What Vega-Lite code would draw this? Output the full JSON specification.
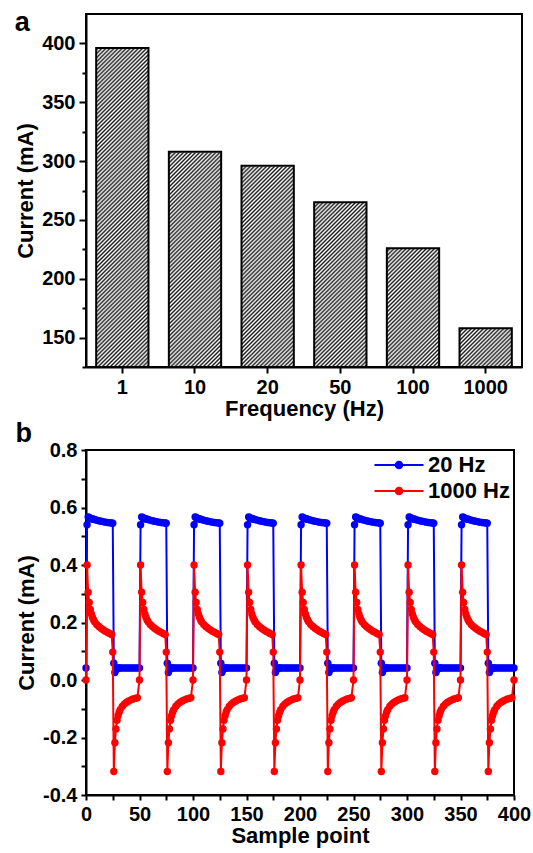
{
  "$schema": "https://vega.github.io/schema/vega-lite/v6.json",
  "padding": {"left": 13, "top": 8, "right": 5, "bottom": 3},
  "bounds": "flush",
  "spacing": 83,
  "resolve": {"scale": {"color": "independent"}, "legend": {"color": "independent"}},
  "config": {
    "view": {"stroke": "#000", "strokeWidth": 2},
    "axis": {"domainColor": "#000", "domainWidth": 2, "tickColor": "#000", "tickWidth": 2, "labelFont": "Liberation Sans", "labelFontSize": 20, "labelFontWeight": "bold", "labelColor": "#000", "titleFont": "Liberation Sans", "titleFontSize": 22, "titleFontWeight": "bold", "titleColor": "#000", "grid": false, "zindex": 1, "labelOverlap": false, "labelFlush": false},
    "axisX": {"labelAngle": 0, "labelPadding": 4, "titlePadding": 1},
    "axisY": {"labelPadding": 4, "titlePadding": 4},
    "legend": {"orient": "top-right", "offset": 4, "padding": 0, "title": null, "labelFont": "Liberation Sans", "labelFontSize": 22, "labelFontWeight": "bold", "labelColor": "#000", "symbolType": "M-4.9,0H4.9M0.65,0A0.65,0.65 0 1 1 -0.65,0A0.65,0.65 0 1 1 0.65,0Z", "symbolSize": 100, "symbolStrokeWidth": 2, "labelOffset": 18, "rowPadding": 4, "symbolOpacity": 1}
  },
  "vconcat": [
    {
      "width": 436,
      "height": 353,
      "title": {"text": "a", "anchor": "start", "frame": "bounds", "orient": "top", "offset": -44, "baseline": "alphabetic", "fontSize": 27, "font": "Liberation Sans", "fontWeight": "bold", "color": "#000"},
      "data": {"values": [
        {"f": "1", "c": 396},
        {"f": "10", "c": 308},
        {"f": "20", "c": 296},
        {"f": "50", "c": 265},
        {"f": "100", "c": 226},
        {"f": "1000", "c": 158}
      ]},
      "encoding": {
        "x": {"field": "f", "type": "nominal", "sort": null, "scale": {"paddingInner": 0.28, "paddingOuter": 0.14}, "title": "Frequency (Hz)", "axis": {"tickSize": 6}}
      },
      "layer": [
        {
          "mark": {"type": "bar", "fill": {"gradient": "linear", "x1": 0, "y1": 0, "x2": 0.1665, "y2": 1.1235, "stops": [
            {"offset":0,"color":"#fff"},{"offset":0.005,"color":"#1a1a1a"},{"offset":0.01,"color":"#fff"},{"offset":0.015,"color":"#1a1a1a"},{"offset":0.02,"color":"#fff"},{"offset":0.025,"color":"#1a1a1a"},{"offset":0.03,"color":"#fff"},{"offset":0.035,"color":"#1a1a1a"},{"offset":0.04,"color":"#fff"},{"offset":0.045,"color":"#1a1a1a"},
            {"offset":0.05,"color":"#fff"},{"offset":0.055,"color":"#1a1a1a"},{"offset":0.06,"color":"#fff"},{"offset":0.065,"color":"#1a1a1a"},{"offset":0.07,"color":"#fff"},{"offset":0.075,"color":"#1a1a1a"},{"offset":0.08,"color":"#fff"},{"offset":0.085,"color":"#1a1a1a"},{"offset":0.09,"color":"#fff"},{"offset":0.095,"color":"#1a1a1a"},
            {"offset":0.1,"color":"#fff"},{"offset":0.105,"color":"#1a1a1a"},{"offset":0.11,"color":"#fff"},{"offset":0.115,"color":"#1a1a1a"},{"offset":0.12,"color":"#fff"},{"offset":0.125,"color":"#1a1a1a"},{"offset":0.13,"color":"#fff"},{"offset":0.135,"color":"#1a1a1a"},{"offset":0.14,"color":"#fff"},{"offset":0.145,"color":"#1a1a1a"},
            {"offset":0.15,"color":"#fff"},{"offset":0.155,"color":"#1a1a1a"},{"offset":0.16,"color":"#fff"},{"offset":0.165,"color":"#1a1a1a"},{"offset":0.17,"color":"#fff"},{"offset":0.175,"color":"#1a1a1a"},{"offset":0.18,"color":"#fff"},{"offset":0.185,"color":"#1a1a1a"},{"offset":0.19,"color":"#fff"},{"offset":0.195,"color":"#1a1a1a"},
            {"offset":0.2,"color":"#fff"},{"offset":0.205,"color":"#1a1a1a"},{"offset":0.21,"color":"#fff"},{"offset":0.215,"color":"#1a1a1a"},{"offset":0.22,"color":"#fff"},{"offset":0.225,"color":"#1a1a1a"},{"offset":0.23,"color":"#fff"},{"offset":0.235,"color":"#1a1a1a"},{"offset":0.24,"color":"#fff"},{"offset":0.245,"color":"#1a1a1a"},
            {"offset":0.25,"color":"#fff"},{"offset":0.255,"color":"#1a1a1a"},{"offset":0.26,"color":"#fff"},{"offset":0.265,"color":"#1a1a1a"},{"offset":0.27,"color":"#fff"},{"offset":0.275,"color":"#1a1a1a"},{"offset":0.28,"color":"#fff"},{"offset":0.285,"color":"#1a1a1a"},{"offset":0.29,"color":"#fff"},{"offset":0.295,"color":"#1a1a1a"},
            {"offset":0.3,"color":"#fff"},{"offset":0.305,"color":"#1a1a1a"},{"offset":0.31,"color":"#fff"},{"offset":0.315,"color":"#1a1a1a"},{"offset":0.32,"color":"#fff"},{"offset":0.325,"color":"#1a1a1a"},{"offset":0.33,"color":"#fff"},{"offset":0.335,"color":"#1a1a1a"},{"offset":0.34,"color":"#fff"},{"offset":0.345,"color":"#1a1a1a"},
            {"offset":0.35,"color":"#fff"},{"offset":0.355,"color":"#1a1a1a"},{"offset":0.36,"color":"#fff"},{"offset":0.365,"color":"#1a1a1a"},{"offset":0.37,"color":"#fff"},{"offset":0.375,"color":"#1a1a1a"},{"offset":0.38,"color":"#fff"},{"offset":0.385,"color":"#1a1a1a"},{"offset":0.39,"color":"#fff"},{"offset":0.395,"color":"#1a1a1a"},
            {"offset":0.4,"color":"#fff"},{"offset":0.405,"color":"#1a1a1a"},{"offset":0.41,"color":"#fff"},{"offset":0.415,"color":"#1a1a1a"},{"offset":0.42,"color":"#fff"},{"offset":0.425,"color":"#1a1a1a"},{"offset":0.43,"color":"#fff"},{"offset":0.435,"color":"#1a1a1a"},{"offset":0.44,"color":"#fff"},{"offset":0.445,"color":"#1a1a1a"},
            {"offset":0.45,"color":"#fff"},{"offset":0.455,"color":"#1a1a1a"},{"offset":0.46,"color":"#fff"},{"offset":0.465,"color":"#1a1a1a"},{"offset":0.47,"color":"#fff"},{"offset":0.475,"color":"#1a1a1a"},{"offset":0.48,"color":"#fff"},{"offset":0.485,"color":"#1a1a1a"},{"offset":0.49,"color":"#fff"},{"offset":0.495,"color":"#1a1a1a"},
            {"offset":0.5,"color":"#fff"},{"offset":0.505,"color":"#1a1a1a"},{"offset":0.51,"color":"#fff"},{"offset":0.515,"color":"#1a1a1a"},{"offset":0.52,"color":"#fff"},{"offset":0.525,"color":"#1a1a1a"},{"offset":0.53,"color":"#fff"},{"offset":0.535,"color":"#1a1a1a"},{"offset":0.54,"color":"#fff"},{"offset":0.545,"color":"#1a1a1a"},
            {"offset":0.55,"color":"#fff"},{"offset":0.555,"color":"#1a1a1a"},{"offset":0.56,"color":"#fff"},{"offset":0.565,"color":"#1a1a1a"},{"offset":0.57,"color":"#fff"},{"offset":0.575,"color":"#1a1a1a"},{"offset":0.58,"color":"#fff"},{"offset":0.585,"color":"#1a1a1a"},{"offset":0.59,"color":"#fff"},{"offset":0.595,"color":"#1a1a1a"},
            {"offset":0.6,"color":"#fff"},{"offset":0.605,"color":"#1a1a1a"},{"offset":0.61,"color":"#fff"},{"offset":0.615,"color":"#1a1a1a"},{"offset":0.62,"color":"#fff"},{"offset":0.625,"color":"#1a1a1a"},{"offset":0.63,"color":"#fff"},{"offset":0.635,"color":"#1a1a1a"},{"offset":0.64,"color":"#fff"},{"offset":0.645,"color":"#1a1a1a"},
            {"offset":0.65,"color":"#fff"},{"offset":0.655,"color":"#1a1a1a"},{"offset":0.66,"color":"#fff"},{"offset":0.665,"color":"#1a1a1a"},{"offset":0.67,"color":"#fff"},{"offset":0.675,"color":"#1a1a1a"},{"offset":0.68,"color":"#fff"},{"offset":0.685,"color":"#1a1a1a"},{"offset":0.69,"color":"#fff"},{"offset":0.695,"color":"#1a1a1a"},
            {"offset":0.7,"color":"#fff"},{"offset":0.705,"color":"#1a1a1a"},{"offset":0.71,"color":"#fff"},{"offset":0.715,"color":"#1a1a1a"},{"offset":0.72,"color":"#fff"},{"offset":0.725,"color":"#1a1a1a"},{"offset":0.73,"color":"#fff"},{"offset":0.735,"color":"#1a1a1a"},{"offset":0.74,"color":"#fff"},{"offset":0.745,"color":"#1a1a1a"},
            {"offset":0.75,"color":"#fff"},{"offset":0.755,"color":"#1a1a1a"},{"offset":0.76,"color":"#fff"},{"offset":0.765,"color":"#1a1a1a"},{"offset":0.77,"color":"#fff"},{"offset":0.775,"color":"#1a1a1a"},{"offset":0.78,"color":"#fff"},{"offset":0.785,"color":"#1a1a1a"},{"offset":0.79,"color":"#fff"},{"offset":0.795,"color":"#1a1a1a"},
            {"offset":0.8,"color":"#fff"},{"offset":0.805,"color":"#1a1a1a"},{"offset":0.81,"color":"#fff"},{"offset":0.815,"color":"#1a1a1a"},{"offset":0.82,"color":"#fff"},{"offset":0.825,"color":"#1a1a1a"},{"offset":0.83,"color":"#fff"},{"offset":0.835,"color":"#1a1a1a"},{"offset":0.84,"color":"#fff"},{"offset":0.845,"color":"#1a1a1a"},
            {"offset":0.85,"color":"#fff"},{"offset":0.855,"color":"#1a1a1a"},{"offset":0.86,"color":"#fff"},{"offset":0.865,"color":"#1a1a1a"},{"offset":0.87,"color":"#fff"},{"offset":0.875,"color":"#1a1a1a"},{"offset":0.88,"color":"#fff"},{"offset":0.885,"color":"#1a1a1a"},{"offset":0.89,"color":"#fff"},{"offset":0.895,"color":"#1a1a1a"},
            {"offset":0.9,"color":"#fff"},{"offset":0.905,"color":"#1a1a1a"},{"offset":0.91,"color":"#fff"},{"offset":0.915,"color":"#1a1a1a"},{"offset":0.92,"color":"#fff"},{"offset":0.925,"color":"#1a1a1a"},{"offset":0.93,"color":"#fff"},{"offset":0.935,"color":"#1a1a1a"},{"offset":0.94,"color":"#fff"},{"offset":0.945,"color":"#1a1a1a"},
            {"offset":0.95,"color":"#fff"},{"offset":0.955,"color":"#1a1a1a"},{"offset":0.96,"color":"#fff"},{"offset":0.965,"color":"#1a1a1a"},{"offset":0.97,"color":"#fff"},{"offset":0.975,"color":"#1a1a1a"},{"offset":0.98,"color":"#fff"},{"offset":0.985,"color":"#1a1a1a"},{"offset":0.99,"color":"#fff"},{"offset":0.995,"color":"#1a1a1a"},
            {"offset":1,"color":"#fff"}
          ]}},
          "encoding": {
            "y": {"datum": 423.5, "type": "quantitative", "scale": {"domain": [125, 425], "nice": false, "zero": false}, "title": "Current (mA)",
              "axis": {"values": [125, 150, 175, 200, 225, 250, 275, 300, 325, 350, 375, 400], "labelExpr": "datum.value % 50 === 0 ? datum.label : ''", "tickSize": {"condition": {"test": "datum.value % 50 === 0", "value": 7}, "value": 4}}},
            "y2": {"datum": 125}
          }
        },
        {
          "mark": {"type": "bar", "fill": "#fff", "stroke": "#fff", "strokeWidth": 1.5},
          "encoding": {
            "y": {"field": "c", "type": "quantitative", "scale": {"domain": [125, 425], "nice": false, "zero": false}, "title": "Current (mA)",
              "axis": {"values": [125, 150, 175, 200, 225, 250, 275, 300, 325, 350, 375, 400], "labelExpr": "datum.value % 50 === 0 ? datum.label : ''", "tickSize": {"condition": {"test": "datum.value % 50 === 0", "value": 7}, "value": 4}}},
            "y2": {"datum": 423.5}
          }
        },
        {
          "mark": {"type": "bar", "fill": "transparent", "stroke": "#000", "strokeWidth": 2},
          "encoding": {
            "y": {"field": "c", "type": "quantitative", "scale": {"domain": [125, 425], "nice": false, "zero": false}, "title": "Current (mA)",
              "axis": {"values": [125, 150, 175, 200, 225, 250, 275, 300, 325, 350, 375, 400], "labelExpr": "datum.value % 50 === 0 ? datum.label : ''", "tickSize": {"condition": {"test": "datum.value % 50 === 0", "value": 7}, "value": 4}}},
            "y2": {"datum": 125}
          }
        }
      ]
    },
    {
      "width": 428,
      "height": 345,
      "title": {"text": "b", "anchor": "start", "frame": "bounds", "orient": "top", "offset": -29, "baseline": "alphabetic", "fontSize": 27, "font": "Liberation Sans", "fontWeight": "bold", "color": "#000"},
      "data": {"values": [
        {"x":0,"a":0.042,"b":0},{"x":1,"a":0.54,"b":0.4},{"x":2,"a":0.567,"b":0.305},{"x":3,"a":0.565,"b":0.27},{"x":4,"a":0.563,"b":0.245},{"x":5,"a":0.561,"b":0.23},{"x":6,"a":0.56,"b":0.218},{"x":7,"a":0.559,"b":0.21},{"x":8,"a":0.558,"b":0.203},{"x":10,"a":0.556,"b":0.193},{"x":12,"a":0.554,"b":0.186},{"x":14,"a":0.552,"b":0.18},{"x":16,"a":0.551,"b":0.175},{"x":18,"a":0.549,"b":0.17},{"x":20,"a":0.548,"b":0.166},{"x":22,"a":0.547,"b":0.162},{"x":24,"a":0.546,"b":0.158},{"x":25,"a":0.545,"b":0.097},{"x":26,"a":0.058,"b":-0.318},{"x":27,"a":0.026,"b":-0.218},{"x":28,"a":0.036,"b":-0.17},{"x":29,"a":0.04,"b":-0.14},{"x":30,"a":0.042,"b":-0.124},{"x":31,"a":0.042,"b":-0.112},{"x":32,"a":0.042,"b":-0.103},{"x":34,"a":0.042,"b":-0.091},{"x":36,"a":0.042,"b":-0.083},{"x":38,"a":0.042,"b":-0.077},{"x":40,"a":0.042,"b":-0.073},{"x":42,"a":0.042,"b":-0.069},{"x":44,"a":0.042,"b":-0.066},{"x":46,"a":0.042,"b":-0.064},{"x":48,"a":0.042,"b":-0.062},
        {"x":50,"a":0.042,"b":0},{"x":51,"a":0.54,"b":0.4},{"x":52,"a":0.567,"b":0.305},{"x":53,"a":0.565,"b":0.27},{"x":54,"a":0.563,"b":0.245},{"x":55,"a":0.561,"b":0.23},{"x":56,"a":0.56,"b":0.218},{"x":57,"a":0.559,"b":0.21},{"x":58,"a":0.558,"b":0.203},{"x":60,"a":0.556,"b":0.193},{"x":62,"a":0.554,"b":0.186},{"x":64,"a":0.552,"b":0.18},{"x":66,"a":0.551,"b":0.175},{"x":68,"a":0.549,"b":0.17},{"x":70,"a":0.548,"b":0.166},{"x":72,"a":0.547,"b":0.162},{"x":74,"a":0.546,"b":0.158},{"x":75,"a":0.545,"b":0.097},{"x":76,"a":0.058,"b":-0.318},{"x":77,"a":0.026,"b":-0.218},{"x":78,"a":0.036,"b":-0.17},{"x":79,"a":0.04,"b":-0.14},{"x":80,"a":0.042,"b":-0.124},{"x":81,"a":0.042,"b":-0.112},{"x":82,"a":0.042,"b":-0.103},{"x":84,"a":0.042,"b":-0.091},{"x":86,"a":0.042,"b":-0.083},{"x":88,"a":0.042,"b":-0.077},{"x":90,"a":0.042,"b":-0.073},{"x":92,"a":0.042,"b":-0.069},{"x":94,"a":0.042,"b":-0.066},{"x":96,"a":0.042,"b":-0.064},{"x":98,"a":0.042,"b":-0.062},
        {"x":100,"a":0.042,"b":0},{"x":101,"a":0.54,"b":0.4},{"x":102,"a":0.567,"b":0.305},{"x":103,"a":0.565,"b":0.27},{"x":104,"a":0.563,"b":0.245},{"x":105,"a":0.561,"b":0.23},{"x":106,"a":0.56,"b":0.218},{"x":107,"a":0.559,"b":0.21},{"x":108,"a":0.558,"b":0.203},{"x":110,"a":0.556,"b":0.193},{"x":112,"a":0.554,"b":0.186},{"x":114,"a":0.552,"b":0.18},{"x":116,"a":0.551,"b":0.175},{"x":118,"a":0.549,"b":0.17},{"x":120,"a":0.548,"b":0.166},{"x":122,"a":0.547,"b":0.162},{"x":124,"a":0.546,"b":0.158},{"x":125,"a":0.545,"b":0.097},{"x":126,"a":0.058,"b":-0.318},{"x":127,"a":0.026,"b":-0.218},{"x":128,"a":0.036,"b":-0.17},{"x":129,"a":0.04,"b":-0.14},{"x":130,"a":0.042,"b":-0.124},{"x":131,"a":0.042,"b":-0.112},{"x":132,"a":0.042,"b":-0.103},{"x":134,"a":0.042,"b":-0.091},{"x":136,"a":0.042,"b":-0.083},{"x":138,"a":0.042,"b":-0.077},{"x":140,"a":0.042,"b":-0.073},{"x":142,"a":0.042,"b":-0.069},{"x":144,"a":0.042,"b":-0.066},{"x":146,"a":0.042,"b":-0.064},{"x":148,"a":0.042,"b":-0.062},
        {"x":150,"a":0.042,"b":0},{"x":151,"a":0.54,"b":0.4},{"x":152,"a":0.567,"b":0.305},{"x":153,"a":0.565,"b":0.27},{"x":154,"a":0.563,"b":0.245},{"x":155,"a":0.561,"b":0.23},{"x":156,"a":0.56,"b":0.218},{"x":157,"a":0.559,"b":0.21},{"x":158,"a":0.558,"b":0.203},{"x":160,"a":0.556,"b":0.193},{"x":162,"a":0.554,"b":0.186},{"x":164,"a":0.552,"b":0.18},{"x":166,"a":0.551,"b":0.175},{"x":168,"a":0.549,"b":0.17},{"x":170,"a":0.548,"b":0.166},{"x":172,"a":0.547,"b":0.162},{"x":174,"a":0.546,"b":0.158},{"x":175,"a":0.545,"b":0.097},{"x":176,"a":0.058,"b":-0.318},{"x":177,"a":0.026,"b":-0.218},{"x":178,"a":0.036,"b":-0.17},{"x":179,"a":0.04,"b":-0.14},{"x":180,"a":0.042,"b":-0.124},{"x":181,"a":0.042,"b":-0.112},{"x":182,"a":0.042,"b":-0.103},{"x":184,"a":0.042,"b":-0.091},{"x":186,"a":0.042,"b":-0.083},{"x":188,"a":0.042,"b":-0.077},{"x":190,"a":0.042,"b":-0.073},{"x":192,"a":0.042,"b":-0.069},{"x":194,"a":0.042,"b":-0.066},{"x":196,"a":0.042,"b":-0.064},{"x":198,"a":0.042,"b":-0.062},
        {"x":200,"a":0.042,"b":0},{"x":201,"a":0.54,"b":0.4},{"x":202,"a":0.567,"b":0.305},{"x":203,"a":0.565,"b":0.27},{"x":204,"a":0.563,"b":0.245},{"x":205,"a":0.561,"b":0.23},{"x":206,"a":0.56,"b":0.218},{"x":207,"a":0.559,"b":0.21},{"x":208,"a":0.558,"b":0.203},{"x":210,"a":0.556,"b":0.193},{"x":212,"a":0.554,"b":0.186},{"x":214,"a":0.552,"b":0.18},{"x":216,"a":0.551,"b":0.175},{"x":218,"a":0.549,"b":0.17},{"x":220,"a":0.548,"b":0.166},{"x":222,"a":0.547,"b":0.162},{"x":224,"a":0.546,"b":0.158},{"x":225,"a":0.545,"b":0.097},{"x":226,"a":0.058,"b":-0.318},{"x":227,"a":0.026,"b":-0.218},{"x":228,"a":0.036,"b":-0.17},{"x":229,"a":0.04,"b":-0.14},{"x":230,"a":0.042,"b":-0.124},{"x":231,"a":0.042,"b":-0.112},{"x":232,"a":0.042,"b":-0.103},{"x":234,"a":0.042,"b":-0.091},{"x":236,"a":0.042,"b":-0.083},{"x":238,"a":0.042,"b":-0.077},{"x":240,"a":0.042,"b":-0.073},{"x":242,"a":0.042,"b":-0.069},{"x":244,"a":0.042,"b":-0.066},{"x":246,"a":0.042,"b":-0.064},{"x":248,"a":0.042,"b":-0.062},
        {"x":250,"a":0.042,"b":0},{"x":251,"a":0.54,"b":0.4},{"x":252,"a":0.567,"b":0.305},{"x":253,"a":0.565,"b":0.27},{"x":254,"a":0.563,"b":0.245},{"x":255,"a":0.561,"b":0.23},{"x":256,"a":0.56,"b":0.218},{"x":257,"a":0.559,"b":0.21},{"x":258,"a":0.558,"b":0.203},{"x":260,"a":0.556,"b":0.193},{"x":262,"a":0.554,"b":0.186},{"x":264,"a":0.552,"b":0.18},{"x":266,"a":0.551,"b":0.175},{"x":268,"a":0.549,"b":0.17},{"x":270,"a":0.548,"b":0.166},{"x":272,"a":0.547,"b":0.162},{"x":274,"a":0.546,"b":0.158},{"x":275,"a":0.545,"b":0.097},{"x":276,"a":0.058,"b":-0.318},{"x":277,"a":0.026,"b":-0.218},{"x":278,"a":0.036,"b":-0.17},{"x":279,"a":0.04,"b":-0.14},{"x":280,"a":0.042,"b":-0.124},{"x":281,"a":0.042,"b":-0.112},{"x":282,"a":0.042,"b":-0.103},{"x":284,"a":0.042,"b":-0.091},{"x":286,"a":0.042,"b":-0.083},{"x":288,"a":0.042,"b":-0.077},{"x":290,"a":0.042,"b":-0.073},{"x":292,"a":0.042,"b":-0.069},{"x":294,"a":0.042,"b":-0.066},{"x":296,"a":0.042,"b":-0.064},{"x":298,"a":0.042,"b":-0.062},
        {"x":300,"a":0.042,"b":0},{"x":301,"a":0.54,"b":0.4},{"x":302,"a":0.567,"b":0.305},{"x":303,"a":0.565,"b":0.27},{"x":304,"a":0.563,"b":0.245},{"x":305,"a":0.561,"b":0.23},{"x":306,"a":0.56,"b":0.218},{"x":307,"a":0.559,"b":0.21},{"x":308,"a":0.558,"b":0.203},{"x":310,"a":0.556,"b":0.193},{"x":312,"a":0.554,"b":0.186},{"x":314,"a":0.552,"b":0.18},{"x":316,"a":0.551,"b":0.175},{"x":318,"a":0.549,"b":0.17},{"x":320,"a":0.548,"b":0.166},{"x":322,"a":0.547,"b":0.162},{"x":324,"a":0.546,"b":0.158},{"x":325,"a":0.545,"b":0.097},{"x":326,"a":0.058,"b":-0.318},{"x":327,"a":0.026,"b":-0.218},{"x":328,"a":0.036,"b":-0.17},{"x":329,"a":0.04,"b":-0.14},{"x":330,"a":0.042,"b":-0.124},{"x":331,"a":0.042,"b":-0.112},{"x":332,"a":0.042,"b":-0.103},{"x":334,"a":0.042,"b":-0.091},{"x":336,"a":0.042,"b":-0.083},{"x":338,"a":0.042,"b":-0.077},{"x":340,"a":0.042,"b":-0.073},{"x":342,"a":0.042,"b":-0.069},{"x":344,"a":0.042,"b":-0.066},{"x":346,"a":0.042,"b":-0.064},{"x":348,"a":0.042,"b":-0.062},
        {"x":350,"a":0.042,"b":0},{"x":351,"a":0.54,"b":0.4},{"x":352,"a":0.567,"b":0.305},{"x":353,"a":0.565,"b":0.27},{"x":354,"a":0.563,"b":0.245},{"x":355,"a":0.561,"b":0.23},{"x":356,"a":0.56,"b":0.218},{"x":357,"a":0.559,"b":0.21},{"x":358,"a":0.558,"b":0.203},{"x":360,"a":0.556,"b":0.193},{"x":362,"a":0.554,"b":0.186},{"x":364,"a":0.552,"b":0.18},{"x":366,"a":0.551,"b":0.175},{"x":368,"a":0.549,"b":0.17},{"x":370,"a":0.548,"b":0.166},{"x":372,"a":0.547,"b":0.162},{"x":374,"a":0.546,"b":0.158},{"x":375,"a":0.545,"b":0.097},{"x":376,"a":0.058,"b":-0.318},{"x":377,"a":0.026,"b":-0.218},{"x":378,"a":0.036,"b":-0.17},{"x":379,"a":0.04,"b":-0.14},{"x":380,"a":0.042,"b":-0.124},{"x":381,"a":0.042,"b":-0.112},{"x":382,"a":0.042,"b":-0.103},{"x":384,"a":0.042,"b":-0.091},{"x":386,"a":0.042,"b":-0.083},{"x":388,"a":0.042,"b":-0.077},{"x":390,"a":0.042,"b":-0.073},{"x":392,"a":0.042,"b":-0.069},{"x":394,"a":0.042,"b":-0.066},{"x":396,"a":0.042,"b":-0.064},{"x":398,"a":0.042,"b":-0.062},
        {"x":400,"a":0.042,"b":0}
      ]},
      "encoding": {
        "x": {"field": "x", "type": "quantitative", "scale": {"domain": [0, 400], "nice": false, "zero": false}, "title": "Sample point",
          "axis": {"values": [0, 25, 50, 75, 100, 125, 150, 175, 200, 225, 250, 275, 300, 325, 350, 375, 400], "labelExpr": "datum.value % 50 === 0 ? datum.label : ''", "tickSize": 5}}
      },
      "layer": [
        {
          "mark": {"type": "line", "strokeWidth": 2, "point": {"filled": true, "size": 55, "opacity": 1}},
          "encoding": {
            "y": {"field": "a", "type": "quantitative", "scale": {"domain": [-0.4, 0.8], "nice": false, "zero": false}, "title": "Current (mA)",
              "axis": {"values": [-0.4, -0.3, -0.2, -0.1, 0, 0.1, 0.2, 0.3, 0.4, 0.5, 0.6, 0.7, 0.8], "labelExpr": "round(datum.value*10) % 2 === 0 ? replace(format(datum.value, '.1f'), '\u2212', '-') : ''", "tickSize": 5}},
            "color": {"datum": "20 Hz", "scale": {"domain": ["20 Hz", "1000 Hz"], "range": ["#0000ff", "#ff0000"]},
              "legend": {"encode": {"symbols": {"update": {"fill": {"scale": "color", "field": "value"}, "stroke": {"scale": "color", "field": "value"}, "opacity": {"value": 1}}}}}}
          }
        },
        {
          "mark": {"type": "line", "strokeWidth": 2, "point": {"filled": true, "size": 55, "opacity": 1}},
          "encoding": {
            "y": {"field": "b", "type": "quantitative", "scale": {"domain": [-0.4, 0.8], "nice": false, "zero": false}, "title": "Current (mA)",
              "axis": {"values": [-0.4, -0.3, -0.2, -0.1, 0, 0.1, 0.2, 0.3, 0.4, 0.5, 0.6, 0.7, 0.8], "labelExpr": "round(datum.value*10) % 2 === 0 ? replace(format(datum.value, '.1f'), '\u2212', '-') : ''", "tickSize": 5}},
            "color": {"datum": "1000 Hz", "scale": {"domain": ["20 Hz", "1000 Hz"], "range": ["#0000ff", "#ff0000"]},
              "legend": {"encode": {"symbols": {"update": {"fill": {"scale": "color", "field": "value"}, "stroke": {"scale": "color", "field": "value"}, "opacity": {"value": 1}}}}}}
          }
        }
      ]
    }
  ]
}
